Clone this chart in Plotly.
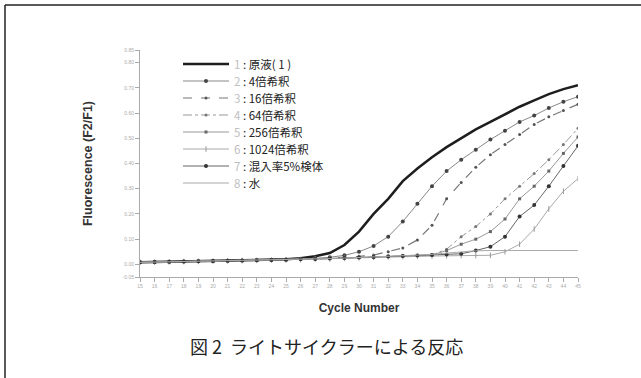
import plotly.graph_objects as go

# Cycle numbers on the x axis
cycles = list(range(15, 46))

# Fluorescence ratio (F2/F1) per cycle for each sample
s1_stock = [0.008, 0.009, 0.010, 0.011, 0.012, 0.013, 0.014, 0.015, 0.016, 0.018, 0.020, 0.024, 0.032,
            0.045, 0.077, 0.130, 0.200, 0.260, 0.330, 0.380, 0.425, 0.465, 0.500, 0.535, 0.565,
            0.595, 0.625, 0.650, 0.675, 0.695, 0.710]
s2_x4 = [0.008, 0.009, 0.010, 0.011, 0.012, 0.013, 0.014, 0.015, 0.016, 0.018, 0.019, 0.021, 0.024,
         0.028, 0.036, 0.050, 0.073, 0.110, 0.170, 0.240, 0.310, 0.370, 0.415, 0.455, 0.495,
         0.530, 0.565, 0.590, 0.620, 0.645, 0.665]
s3_x16 = [0.008, 0.009, 0.010, 0.011, 0.012, 0.013, 0.014, 0.015, 0.016, 0.017, 0.019, 0.020, 0.022,
          0.025, 0.028, 0.032, 0.037, 0.050, 0.065, 0.097, 0.155, 0.260, 0.325, 0.385, 0.435,
          0.475, 0.515, 0.555, 0.585, 0.610, 0.635]
s4_x64 = [0.008, 0.009, 0.010, 0.011, 0.012, 0.013, 0.014, 0.015, 0.016, 0.017, 0.018, 0.020, 0.021,
          0.023, 0.025, 0.027, 0.029, 0.031, 0.033, 0.035, 0.038, 0.060, 0.110, 0.150, 0.200,
          0.260, 0.310, 0.360, 0.415, 0.475, 0.540]
s5_x256 = [0.008, 0.009, 0.010, 0.011, 0.012, 0.013, 0.014, 0.015, 0.016, 0.017, 0.018, 0.020, 0.021,
           0.023, 0.025, 0.027, 0.029, 0.031, 0.033, 0.035, 0.037, 0.055, 0.080, 0.100, 0.130,
           0.180, 0.260, 0.310, 0.370, 0.440, 0.505]
s6_x1024 = [0.008, 0.009, 0.010, 0.011, 0.012, 0.013, 0.014, 0.015, 0.016, 0.017, 0.018, 0.019, 0.021,
            0.022, 0.024, 0.026, 0.028, 0.030, 0.031, 0.032, 0.033, 0.034, 0.035, 0.035, 0.036,
            0.050, 0.080, 0.140, 0.220, 0.290, 0.340]
s7_mix5 = [0.008, 0.009, 0.010, 0.011, 0.012, 0.013, 0.014, 0.015, 0.016, 0.017, 0.018, 0.020, 0.021,
           0.023, 0.025, 0.027, 0.029, 0.031, 0.033, 0.035, 0.037, 0.039, 0.042, 0.055, 0.070,
           0.110, 0.190, 0.235, 0.310, 0.390, 0.470]
s8_water = [0.008, 0.009, 0.010, 0.011, 0.012, 0.013, 0.014, 0.015, 0.016, 0.017, 0.018, 0.020, 0.021,
            0.023, 0.025, 0.027, 0.029, 0.031, 0.034, 0.037, 0.040, 0.045, 0.050, 0.054, 0.055,
            0.055, 0.055, 0.055, 0.055, 0.055, 0.055]

labels = ["原液( 1 )", "4倍希釈", "16倍希釈", "64倍希釈", "256倍希釈",
          "1024倍希釈", "混入率5%検体", "水"]

y_ticks = [-0.05, 0.0, 0.1, 0.2, 0.3, 0.4, 0.5, 0.6, 0.7, 0.8, 0.85]

series = [s1_stock, s2_x4, s3_x16, s4_x64, s5_x256, s6_x1024, s7_mix5, s8_water]

styles = [
    dict(line=dict(color="#1e1e1e", width=2.5), mode="lines"),
    dict(line=dict(color="#888888", width=1), mode="lines+markers",
         marker=dict(symbol="circle", size=4, color="#444444")),
    dict(line=dict(color="#777777", width=1.2, dash="dash"), mode="lines+markers",
         marker=dict(symbol="circle", size=3, color="#555555")),
    dict(line=dict(color="#999999", width=1, dash="dashdot"), mode="lines+markers",
         marker=dict(symbol="circle", size=3, color="#777777")),
    dict(line=dict(color="#999999", width=1), mode="lines+markers",
         marker=dict(symbol="square", size=3, color="#666666")),
    dict(line=dict(color="#aaaaaa", width=1), mode="lines+markers",
         marker=dict(symbol="line-ns-open", size=4, color="#999999", line=dict(width=1, color="#999999"))),
    dict(line=dict(color="#666666", width=1), mode="lines+markers",
         marker=dict(symbol="circle", size=4, color="#333333")),
    dict(line=dict(color="#aaaaaa", width=1), mode="lines"),
]

# plot area: x 140..578 px, y 50..277 px
L, R, T, B = 140, 578, 50, 277
W, H = R - L, B - T


def px(x):
    return (x - L) / W


def py(y):
    return (B - y) / H


fig = go.Figure()
legend_layout = {}
for k, (vals, lab, st) in enumerate(zip(series, labels, styles)):
    key = "legend" if k == 0 else "legend%d" % (k + 1)
    name = ('<span style="color:#c0c0c0">%d</span> : %s' % (k + 1, lab))
    fig.add_trace(go.Scatter(x=cycles, y=vals, name=name, legend=key, **st))
    # one legend box per row so the rows sit 17 px apart
    legend_layout[key] = dict(
        x=px(178), y=py(64 + 17 * k), xanchor="left", yanchor="middle",
        font=dict(family="Noto Sans CJK JP", size=11.5, color="#222222"),
        bgcolor="rgba(0,0,0,0)", borderwidth=0, itemwidth=46)

axis_font = dict(family="Liberation Sans, Arial", size=5, color="#aaaaaa")

fig.update_layout(
    width=641, height=378,
    margin=dict(l=L, r=641 - R, t=T, b=378 - B),
    paper_bgcolor="white", plot_bgcolor="white",
    showlegend=True,
    xaxis=dict(range=[15, 45], tickvals=cycles, ticktext=[str(c) for c in cycles],
               showgrid=False, zeroline=False, showline=True, linecolor="#aaaaaa", linewidth=1,
               ticks="outside", ticklen=4, tickcolor="#aaaaaa", tickfont=axis_font,
               title=dict(text="<b>Cycle Number</b>", standoff=15,
                          font=dict(family="Liberation Sans, Arial", size=12, color="#333333"))),
    yaxis=dict(range=[-0.05, 0.85], tickvals=y_ticks,
               ticktext=["%.2f" % v for v in y_ticks],
               showgrid=False, zeroline=False, showline=True, linecolor="#aaaaaa", linewidth=1,
               ticks="outside", ticklen=4, tickcolor="#aaaaaa", tickfont=axis_font,
               title=dict(text="<b>Fluorescence (F2/F1)</b>", standoff=27,
                          font=dict(family="Liberation Sans, Arial", size=12.5, color="#333333"))),
    **legend_layout,
)

# Frame around the figure panel (top and left edges)
fig.add_shape(type="line", xref="paper", yref="paper", x0=px(5), x1=px(645), y0=py(5), y1=py(5),
              line=dict(color="#222222", width=1.5))
fig.add_shape(type="line", xref="paper", yref="paper", x0=px(5), x1=px(5), y0=py(5), y1=py(382),
              line=dict(color="#222222", width=1.5))

fig.add_annotation(text="図 2  ライトサイクラーによる反応", xref="paper", yref="paper",
                   x=px(326), y=py(346), xanchor="center", yanchor="middle", showarrow=False,
                   font=dict(family="Noto Sans CJK JP", size=18, color="#222222"))

fig.write_html("out.html")
